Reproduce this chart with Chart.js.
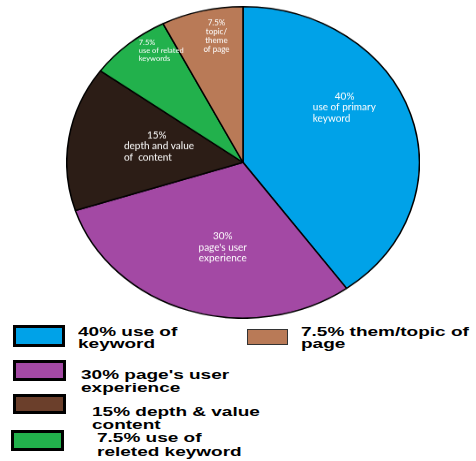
<!DOCTYPE html>
<html>
<head>
<meta charset="utf-8">
<script src="https://cdn.jsdelivr.net/npm/chart.js@4"></script>
<style>
  html, body { margin: 0; padding: 0; background: #fff; }
  body { width: 476px; height: 461px; position: relative; overflow: hidden; }
  #wrap { position: absolute; left: 66px; top: 6px; width: 354px; height: 354px;
          transform: scaleY(0.8835); transform-origin: 0 0; }
  .box { position: absolute; box-sizing: border-box; border: 3px solid #000; }
  .txt { position: absolute; font: bold 12.5px "Liberation Sans", Arial, sans-serif;
         line-height: 12.5px; color: #000; white-space: nowrap;
         transform: scaleX(1.52); transform-origin: 0 0; }
</style>
</head>
<body>
<div id="wrap"><canvas id="pie" width="354" height="354"></canvas></div>
<div id="legend"></div>
<script>
// ── data ──
const categories = ['use of primary keyword', "page's user experience", 'depth and value of content',
                    'use of related keywords', 'topic/theme of page'];
const shares = [40, 30, 15, 7.5, 7.5];
const sliceColors = ['#00a2e8', '#a349a4', '#2c1d16', '#22b14c', '#b97a57'];

// text written inside each slice
const sliceText = [
  ['40%', 'use of primary', 'keyword'],
  ['30%', "page's user", 'experience'],
  ['15%', 'depth and value', 'of  content'],
  ['7.5%', 'use of related', 'keywords'],
  ['7.5%', 'topic/', 'theme', 'of page']
];

// legend below the pie
const legendText = [
  ['40% use of', 'keyword'],
  ["30% page's user", 'experience'],
  ['15% depth & value', 'content'],
  ['7.5% use of', 'releted keyword'],
  ['7.5% them/topic of', 'page']
];
const legendColors = ['#00a2e8', '#a349a4', '#6b3f2b', '#22b14c', '#b97a57'];

const SY = 0.8835; // vertical squash of the pie

// label placement relative to each arc's centre point (screen px)
const labelStyle = [
  { dx: -14, dy: -42, size: 10, lh: 11, align: 'left', indent: 22 },
  { dx: 7, dy: 0, size: 10, lh: 11, align: 'center', indent: 0 },
  { dx: -32, dy: -15, size: 10, lh: 11, align: 'left', indent: 23 },
  { dx: -47, dy: -61, size: 7.5, lh: 8, align: 'left', indent: 0 },
  { dx: -6, dy: -64, size: 8, lh: 9, align: 'center', indent: 0 }
];

const sliceLabels = {
  id: 'sliceLabels',
  afterDatasetsDraw(chart) {
    const ctx = chart.ctx;
    chart.getDatasetMeta(0).data.forEach((arc, i) => {
      const p = arc.tooltipPosition();
      const st = labelStyle[i];
      ctx.save();
      ctx.translate(p.x, p.y);
      ctx.scale(1, 1 / SY);
      ctx.fillStyle = '#fff';
      ctx.font = st.size + 'px Lato, "Open Sans", sans-serif';
      ctx.textAlign = st.align;
      ctx.textBaseline = 'middle';
      sliceText[i].forEach((line, j) => {
        const x = st.dx + (j === 0 ? st.indent : 0);
        ctx.fillText(line, x, st.dy + j * st.lh);
      });
      ctx.restore();
    });
  }
};

new Chart(document.getElementById('pie'), {
  type: 'pie',
  data: {
    labels: categories,
    datasets: [{
      data: shares,
      backgroundColor: sliceColors,
      borderColor: '#000',
      borderWidth: 1.5
    }]
  },
  options: {
    responsive: false,
    animation: false,
    devicePixelRatio: 1,
    layout: { padding: 0 },
    plugins: { legend: { display: false }, tooltip: { enabled: false } }
  },
  plugins: [sliceLabels]
});

// legend boxes + text
const boxPos = [
  { l: 13, t: 325, w: 52, h: 22, bw: 3 },
  { l: 13, t: 360, w: 53, h: 21, bw: 3 },
  { l: 13, t: 394, w: 53, h: 20, bw: 3 },
  { l: 11, t: 430, w: 53, h: 21, bw: 3 },
  { l: 247, t: 329, w: 41, h: 16, bw: 1.5 }
];
const textPos = [
  { l: 78, t: 326, lh: 12 },
  { l: 81, t: 369, lh: 12.5 },
  { l: 92, t: 406, lh: 13 },
  { l: 97, t: 431, lh: 14 },
  { l: 301, t: 326, lh: 12 }
];
const leg = document.getElementById('legend');
legendText.forEach((lines, i) => {
  const b = boxPos[i], t = textPos[i];
  const box = document.createElement('div');
  box.className = 'box';
  box.style.cssText = `left:${b.l}px;top:${b.t}px;width:${b.w}px;height:${b.h}px;` +
    `border-width:${b.bw}px;border-color:${b.bw < 2 ? '#333' : '#000'};background:${legendColors[i]}`;
  leg.appendChild(box);
  const tx = document.createElement('div');
  tx.className = 'txt';
  tx.style.cssText = `left:${t.l}px;top:${t.t}px;line-height:${t.lh}px`;
  tx.innerHTML = lines.join('<br>');
  leg.appendChild(tx);
});
</script>
</body>
</html>
